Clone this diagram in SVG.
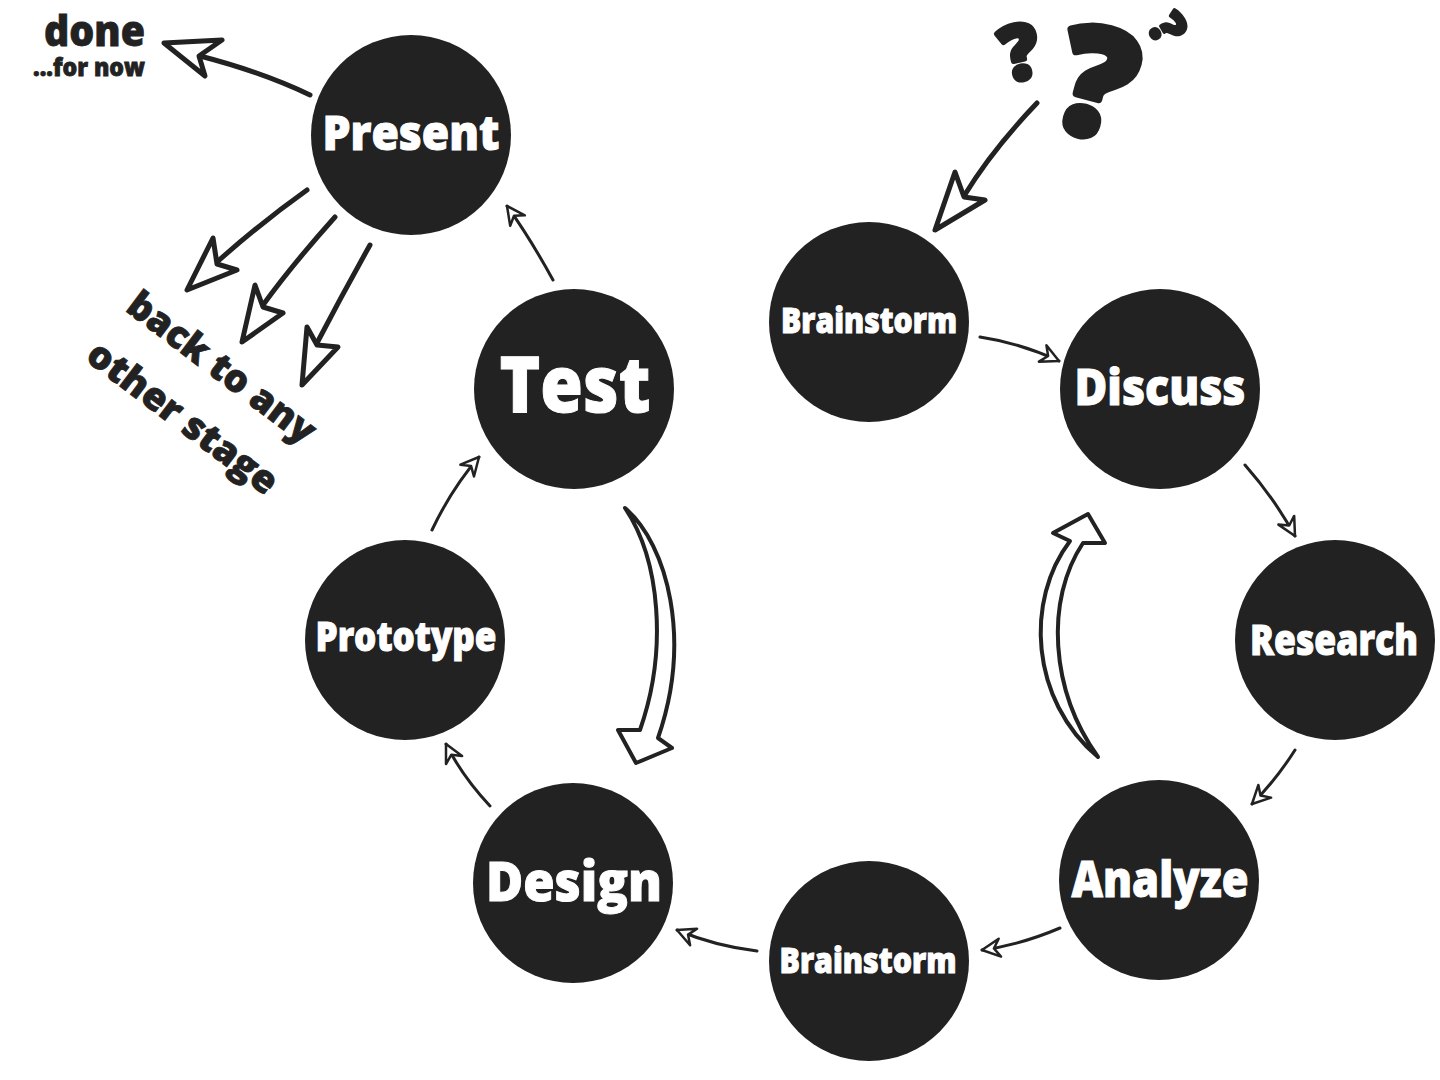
<svg xmlns="http://www.w3.org/2000/svg" width="1440" height="1080" viewBox="0 0 1440 1080">
<style>
.node{fill:#222}
.lbl{fill:#fff;stroke:#fff;stroke-width:1;font-family:"Open Sans",Lato,"Liberation Sans",sans-serif;font-weight:800;text-anchor:middle}
.note{fill:#222;stroke:#222;stroke-width:0.8;font-family:"Open Sans",Lato,"Liberation Sans",sans-serif;font-weight:800}
.q{fill:#222;stroke:#222;stroke-linejoin:round;font-family:"Open Sans",Lato,"Liberation Sans",sans-serif;font-weight:800;text-anchor:middle}
.thin{fill:none;stroke:#222;stroke-width:3;stroke-linecap:round}
.thick{fill:none;stroke:#222;stroke-width:5;stroke-linecap:round;stroke-linejoin:round}
.head{fill:#fff;stroke:#222;stroke-width:5;stroke-linejoin:round}
.hollow{fill:#fff;stroke:#222;stroke-width:4;stroke-linejoin:round}
</style>
<defs>
<marker id="ah" markerUnits="userSpaceOnUse" viewBox="-22 -12 26 24" refX="0" refY="0" markerWidth="26" markerHeight="24" orient="auto">
<path d="M0,0 L-18,-9 L-12,0 L-18,9 Z" fill="#fff" stroke="#222" stroke-width="2.5" stroke-linejoin="round"/>
</marker>
</defs>
<rect width="1440" height="1080" fill="#fff"/>

<g id="connectors">
<path class="thin" d="M553,280 Q530,238 507,206" marker-end="url(#ah)"/>
<path class="thin" d="M432,530 Q452,488 479,457" marker-end="url(#ah)"/>
<path class="thin" d="M490,806 Q462,776 446,744" marker-end="url(#ah)"/>
<path class="thin" d="M757,951 Q715,946 677,930" marker-end="url(#ah)"/>
<path class="thin" d="M1060,928 Q1020,945 982,950" marker-end="url(#ah)"/>
<path class="thin" d="M1295,750 Q1276,780 1252,804" marker-end="url(#ah)"/>
<path class="thin" d="M1245,465 Q1274,498 1295,536" marker-end="url(#ah)"/>
<path class="thin" d="M980,337 Q1020,343 1059,361" marker-end="url(#ah)"/>

<path class="thick" d="M310,95 Q262,72 200,56"/>
<path class="head" d="M222,40 L164,43 L205,76 L199,56 Z"/>
<path class="thick" d="M307,190 Q262,222 217,262"/>
<path class="head" d="M213,238 L187,290 L237,270 L217,264 Z"/>
<path class="thick" d="M335,217 Q292,265 263,305"/>
<path class="head" d="M255,285 L242,342 L283,313 L263,307 Z"/>
<path class="thick" d="M370,245 Q342,295 317,343"/>
<path class="head" d="M307,327 L302,385 L338,347 L317,345 Z"/>
<path class="thick" d="M1037,103 Q992,150 964,196"/>
<path class="head" d="M955,172 L935,230 L985,200 L964,197 Z"/>

<path class="hollow" d="M625,508 C668,545 692,640 658,738 L672,748 L636,763 L618,730 L640,730 C668,650 660,560 625,508 Z"/>
<path class="hollow" d="M1098,757 C1030,700 1025,600 1070,541 L1053,533 L1088,514 L1105,543 L1083,543 C1045,600 1050,690 1098,757 Z"/>
</g>

<g id="present"><circle class="node" cx="411" cy="135" r="100"/><text class="lbl" x="411" y="150" font-size="48" textLength="177" lengthAdjust="spacingAndGlyphs">Present</text></g>
<g id="test"><circle class="node" cx="574" cy="389" r="100"/><text class="lbl" x="575" y="412" font-size="78" textLength="151" lengthAdjust="spacingAndGlyphs">Test</text></g>
<g id="prototype"><circle class="node" cx="405" cy="640" r="100"/><text class="lbl" x="406" y="651" font-size="40" textLength="181" lengthAdjust="spacingAndGlyphs">Prototype</text></g>
<g id="design"><circle class="node" cx="573" cy="883" r="100"/><text class="lbl" x="574" y="901" font-size="54" textLength="176" lengthAdjust="spacingAndGlyphs">Design</text></g>
<g id="brainstorm-bottom"><circle class="node" cx="869" cy="961" r="100"/><text class="lbl" x="868" y="973" font-size="35" textLength="177" lengthAdjust="spacingAndGlyphs">Brainstorm</text></g>
<g id="analyze"><circle class="node" cx="1159" cy="880" r="100"/><text class="lbl" x="1160" y="897" font-size="50" textLength="177" lengthAdjust="spacingAndGlyphs">Analyze</text></g>
<g id="research"><circle class="node" cx="1335" cy="640" r="100"/><text class="lbl" x="1334" y="655" font-size="42" textLength="168" lengthAdjust="spacingAndGlyphs">Research</text></g>
<g id="discuss"><circle class="node" cx="1160" cy="389" r="100"/><text class="lbl" x="1160" y="405" font-size="50" textLength="171" lengthAdjust="spacingAndGlyphs">Discuss</text></g>
<g id="brainstorm-top"><circle class="node" cx="869" cy="322" r="100"/><text class="lbl" x="869" y="333" font-size="35" textLength="176" lengthAdjust="spacingAndGlyphs">Brainstorm</text></g>

<g id="notes">
<text class="note" x="44" y="46" font-size="42" textLength="101" lengthAdjust="spacingAndGlyphs">done</text>
<text class="note" x="33" y="76" font-size="24" textLength="112" lengthAdjust="spacingAndGlyphs">...for now</text>
<text class="note" transform="translate(214,378) rotate(37)" text-anchor="middle" font-size="38" textLength="225" lengthAdjust="spacingAndGlyphs">back to any</text>
<text class="note" transform="translate(175,428) rotate(37)" text-anchor="middle" font-size="38" textLength="228" lengthAdjust="spacingAndGlyphs">other stage</text>
<text class="q" transform="translate(1020,52) rotate(-12)" x="0" y="27" font-size="76" stroke-width="5">?</text>
<text class="q" transform="translate(1097,80) rotate(15)" x="0" y="56" font-size="150" stroke-width="8">?</text>
<text class="q" transform="translate(1168,28) rotate(60)" x="0" y="18" font-size="50" stroke-width="3">?</text>
</g>
</svg>
